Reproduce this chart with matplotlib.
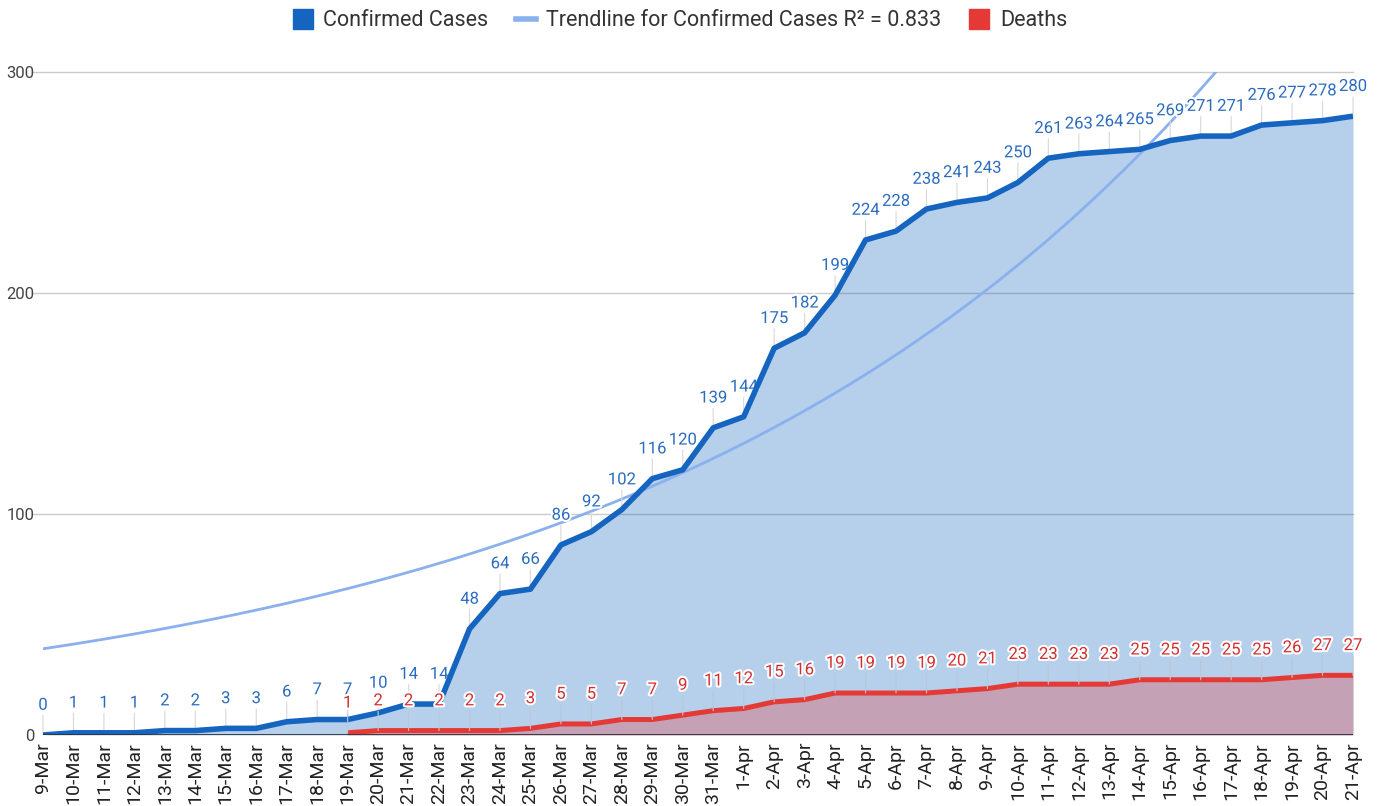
import numpy as np
import matplotlib
matplotlib.use("Agg")
import matplotlib.pyplot as plt
from matplotlib.lines import Line2D
import matplotlib.patheffects as pe

dates = ["9-Mar", "10-Mar", "11-Mar", "12-Mar", "13-Mar", "14-Mar", "15-Mar", "16-Mar",
         "17-Mar", "18-Mar", "19-Mar", "20-Mar", "21-Mar", "22-Mar", "23-Mar", "24-Mar",
         "25-Mar", "26-Mar", "27-Mar", "28-Mar", "29-Mar", "30-Mar", "31-Mar",
         "1-Apr", "2-Apr", "3-Apr", "4-Apr", "5-Apr", "6-Apr", "7-Apr", "8-Apr", "9-Apr",
         "10-Apr", "11-Apr", "12-Apr", "13-Apr", "14-Apr", "15-Apr", "16-Apr", "17-Apr",
         "18-Apr", "19-Apr", "20-Apr", "21-Apr"]
confirmed = [0, 1, 1, 1, 2, 2, 3, 3, 6, 7, 7, 10, 14, 14, 48, 64, 66, 86, 92, 102, 116, 120, 139,
             144, 175, 182, 199, 224, 228, 238, 241, 243, 250, 261, 263, 264, 265, 269, 271, 271,
             276, 277, 278, 280]
deaths_start = "19-Mar"
deaths = [1, 2, 2, 2, 2, 2, 3, 5, 5, 7, 7, 9, 11,
          12, 15, 16, 19, 19, 19, 19, 20, 21, 23, 23, 23, 23, 25, 25, 25, 25, 25, 26, 27, 27]
# exponential trendline coefficients (y = A * exp(B * day_index))
trend_a = 39.0
trend_b = 0.053
r2_text = "R² = 0.833"

C_BLUE = "#1565c0"
C_BLUE_TXT = "#2b6cbf"
C_TREND = "#8ab0ee"
C_RED = "#e53935"
C_RED_TXT = "#d32f2f"

plt.rcParams['font.family'] = ['Roboto', 'DejaVu Sans']

x = np.arange(len(dates))
yc = np.array(confirmed, dtype=float)
d0 = dates.index(deaths_start)
xd = np.arange(d0, d0 + len(deaths))
yd = np.array(deaths, dtype=float)

xt = np.linspace(0, len(dates) - 1, 400)
yt = trend_a * np.exp(trend_b * xt)

fig = plt.figure(figsize=(13.8, 8.06), dpi=100)
ax = fig.add_axes([43 / 1380, 1 - 735 / 806, (1353 - 43) / 1380, (735 - 72) / 806])

ax.fill_between(x, 0, yc, color=C_BLUE, alpha=0.31, lw=0, zorder=1)
ax.fill_between(xd, 0, yd, color=C_RED, alpha=0.3, lw=0, zorder=1.1)

for gv in [100, 200, 300]:
    ax.axhline(gv, xmin=-0.008, xmax=1, color="#555555", alpha=0.3, lw=1, zorder=1.5, clip_on=False)
ax.axhline(0, color="#333333", lw=1.3, zorder=5)

ax.plot(xt, yt, color=C_TREND, lw=2, zorder=2, solid_capstyle='butt')

halo = [pe.withStroke(linewidth=3, foreground="white")]
for xi, v in zip(x, confirmed):
    ax.annotate(str(v), xy=(xi, v), xytext=(0, 16), textcoords="offset points",
                ha="center", va="bottom", fontsize=12, color=C_BLUE_TXT, zorder=2.5,
                path_effects=halo,
                arrowprops=dict(arrowstyle="-", color="#d8d8d8", lw=0.8, shrinkA=0, shrinkB=0))
ax.plot(x, yc, color=C_BLUE, lw=4.0, zorder=3, solid_joinstyle='round', solid_capstyle='butt')
ax.plot(xd, yd, color=C_RED, lw=3.6, zorder=3.1, solid_joinstyle='round', solid_capstyle='butt')
for xi, v in zip(xd, deaths):
    ax.annotate(str(v), xy=(xi, v), xytext=(0, 16), textcoords="offset points",
                ha="center", va="bottom", fontsize=12, color=C_RED_TXT, zorder=4,
                path_effects=halo,
                arrowprops=dict(arrowstyle="-", color="#b8c8da", lw=0.8, shrinkA=0, shrinkB=0))

ax.set_xlim(0, len(dates) - 1)
ax.set_ylim(0, 300)
ax.set_xticks(x)
ax.set_xticklabels(dates, rotation=90, fontsize=14, color="#222222")
ax.set_yticks([0, 100, 200, 300])
ax.set_yticklabels(["0", "100", "200", "300"], fontsize=12, color="#444444")
ax.tick_params(axis="both", length=0)
ax.tick_params(axis="x", pad=5)
ax.tick_params(axis="y", pad=6)
for s in ax.spines.values():
    s.set_visible(False)

handles = [
    Line2D([], [], marker="s", linestyle="none", markersize=14, color=C_BLUE),
    Line2D([], [], color=C_TREND, lw=4),
    Line2D([], [], marker="s", linestyle="none", markersize=14, color=C_RED),
]
labels = ["Confirmed Cases", "Trendline for Confirmed Cases " + r2_text, "Deaths"]
fig.legend(handles, labels, loc="center", bbox_to_anchor=(680 / 1380, 1 - 21 / 806), ncol=3,
           frameon=False, fontsize=15.5, handlelength=0.9, handletextpad=0.5, columnspacing=1.3,
           labelcolor="#333333")

fig.savefig("out.png", dpi=100)
